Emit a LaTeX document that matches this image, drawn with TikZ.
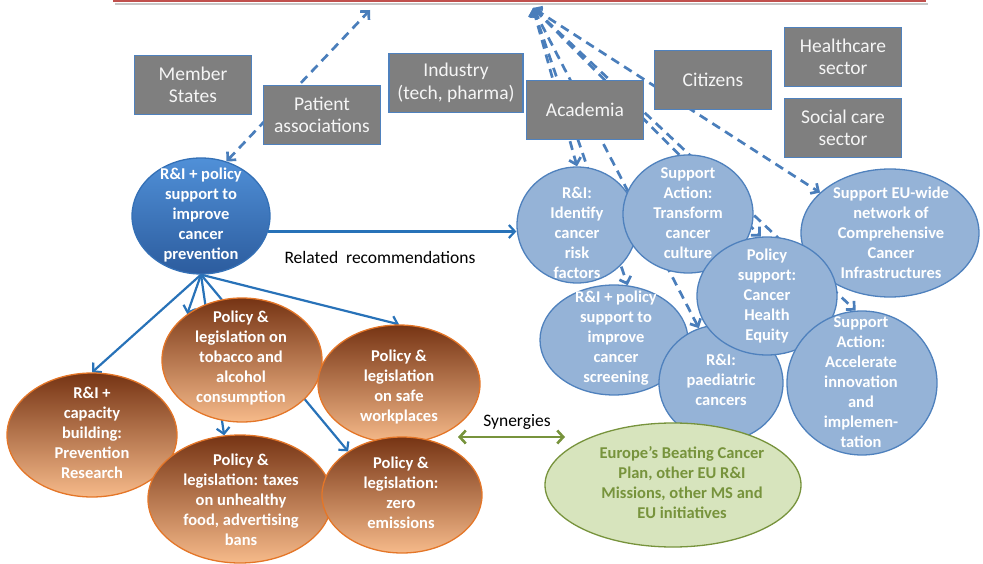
\documentclass[tikz,border=0pt]{standalone}
\usepackage{fontspec}
\setmainfont{Carlito}
\usetikzlibrary{shapes.geometric,arrows.meta,backgrounds}
\definecolor{boxgray}{RGB}{127,127,127}
\definecolor{boxborder}{RGB}{79,129,189}
\definecolor{circfill}{RGB}{149,179,215}
\definecolor{circborder}{RGB}{79,129,189}
\definecolor{dashblue}{RGB}{74,126,187}
\definecolor{solidblue}{RGB}{40,114,184}
\definecolor{prevtop}{RGB}{80,144,216}
\definecolor{prevbot}{RGB}{44,92,158}
\definecolor{prevborder}{RGB}{52,112,182}
\definecolor{browntop}{RGB}{118,52,20}
\definecolor{brownmid}{RGB}{180,98,50}
\definecolor{brownbot}{RGB}{246,186,138}
\definecolor{brownborder}{RGB}{228,118,40}
\definecolor{greenfill}{RGB}{215,228,189}
\definecolor{greenborder}{RGB}{119,147,60}
\definecolor{greentext}{RGB}{119,147,60}
\definecolor{redline}{RGB}{192,80,77}
\definecolor{boxtext}{RGB}{245,245,245}
\begin{document}
\begin{tikzpicture}[x=1pt,y=-1pt,
  graybox/.style={rectangle, draw=boxborder, fill=boxgray, line width=1.2pt, text=boxtext,
    minimum width=117pt, minimum height=59pt, align=center, inner sep=2pt,
    font=\fontsize{19.5}{22.5}\selectfont},
  bluecirc/.style={ellipse, draw=circborder, fill=circfill, line width=1.3pt, inner sep=0pt},
  prevcirc/.style={ellipse, draw=prevborder, top color=prevtop, bottom color=prevbot, line width=1.3pt, inner sep=0pt},
  browncirc/.style={ellipse, draw=brownborder, top color=browntop, middle color=brownmid, bottom color=brownbot, line width=1.3pt, inner sep=0pt},
  greencirc/.style={ellipse, draw=greenborder, fill=greenfill, line width=1.3pt, inner sep=0pt},
  circtext/.style={align=center, text=white, inner sep=0pt, font=\bfseries\fontsize{16.5}{20}\selectfont},
  greentxt/.style={align=center, text=greentext, inner sep=0pt, font=\bfseries\fontsize{16.5}{20}\selectfont},
  plainlabel/.style={inner sep=0pt, text=black, font=\fontsize{17.5}{21}\selectfont},
  dasharrow/.style={draw=dashblue, line width=2.7pt, dash pattern=on 9pt off 6pt,
    {Straight Barb[length=6pt,width=12pt]}-{Straight Barb[length=6pt,width=12pt]}},
  solidarrow/.style={draw=solidblue, line width=2.2pt, -{Straight Barb[length=6pt,width=13pt]}},
  greenarrow/.style={draw=greenborder, line width=2.6pt,
    {Straight Barb[length=6pt,width=13pt]}-{Straight Barb[length=6pt,width=13pt]}}
]
\useasboundingbox (0,0) rectangle (983,564);

% top red edge
\draw[black!22, line width=1.6pt] (115,3.8) -- (928,3.8);
\draw[redline, line width=2pt] (113,1) -- (926,1);

\coordinate (T) at (533,8);
\coordinate (T2) at (370,10);

% stakeholder boxes
\node[graybox] (ms) at (193,85) {Member\\States};
\node[graybox] (pa) at (322,115) {Patient\\associations};
\node[graybox, minimum width=134pt] (ind) at (456,83) {Industry\\(tech, pharma)};
\node[graybox] (acad) at (585,110) {Academia};
\node[graybox] (cit) at (713,80) {Citizens};
\node[graybox] (hc) at (843,57) {Healthcare\\sector};
\node[graybox] (sc) at (843,128) {Social care\\sector};

% prevention circle
\node[prevcirc, minimum width=138pt, minimum height=116pt] (prev) at (201,216) {};
\node[circtext] (prev-t) at (201,215) {R\&I + policy\\support to\\improve\\cancer\\prevention};

% brown circles
\node[browncirc, minimum width=170pt, minimum height=124pt] (cap) at (92,435) {};
\node[circtext] (cap-t) at (92,433) {R\&I +\\capacity\\building:\\Prevention\\Research};
\node[browncirc, minimum width=160pt, minimum height=124pt] (tob) at (242,360) {};
\node[circtext] (tob-t) at (241,358) {Policy \&\\legislation on\\tobacco and\\alcohol\\consumption};
\node[browncirc, minimum width=162pt, minimum height=118pt] (safe) at (399,384) {};
\node[circtext] (safe-t) at (399,387) {Policy \&\\legislation\\on safe\\workplaces};
\node[browncirc, minimum width=184pt, minimum height=128pt] (tax) at (240,499) {};
\node[circtext] (tax-t) at (241,500) {Policy \&\\legislation: taxes\\on unhealthy\\food, advertising\\bans};
\node[browncirc, minimum width=160pt, minimum height=116pt] (zero) at (402,495) {};
\node[circtext] (zero-t) at (401,493) {Policy \&\\legislation:\\zero\\emissions};

% blue circles
\node[bluecirc, minimum width=120pt, minimum height=116pt] (ident) at (577,225) {};
\node[circtext] (ident-t) at (577,233) {R\&I:\\Identify\\cancer\\risk\\factors};
\node[bluecirc, minimum width=130pt, minimum height=118pt] (trans) at (688,214) {};
\node[circtext] (trans-t) at (688,213) {Support\\Action:\\Transform\\cancer\\culture};
\node[bluecirc, minimum width=178pt, minimum height=128pt] (eu) at (890,233) {};
\node[circtext] (eu-t) at (891,233) {Support EU-wide\\network of\\Comprehensive\\Cancer\\Infrastructures};
\node[bluecirc, minimum width=148pt, minimum height=110pt] (scr) at (614,340) {};
\node[circtext] (scr-t) at (616,338) {R\&I + policy\\support to\\improve\\cancer\\screening};
\node[bluecirc, minimum width=124pt, minimum height=116pt] (ped) at (721,383) {};
\node[circtext] (ped-t) at (721,380) {R\&I:\\paediatric\\cancers};
\node[bluecirc, minimum width=140pt, minimum height=118pt] (pol) at (767,296) {};
\node[circtext] (pol-t) at (767,296) {Policy\\support:\\Cancer\\Health\\Equity};
\node[bluecirc, minimum width=150pt, minimum height=144pt] (acc) at (862,383) {};
\node[circtext] (acc-t) at (861,382) {Support\\Action:\\Accelerate\\innovation\\and\\implemen-\\tation};

% green ellipse
\node[greencirc, minimum width=256pt, minimum height=124pt] (plan) at (673,485) {};
\node[greentxt] (plan-t) at (682,483) {Europe’s Beating Cancer\\Plan, other EU R\&I\\Missions, other MS and\\EU initiatives};

% labels
\node[plainlabel] (relrec) at (380,257) {Related\hspace{0.45em}recommendations};
\node[plainlabel] (syn) at (517,422) {Synergies};

\coordinate (synL) at (458,437);
\coordinate (synR) at (565,437);

\begin{scope}[on background layer]
  % dashed links to the top
  \draw[dasharrow] (prev.65) -- (T2);
  \draw[dasharrow] (T) -- (ident.north);
  \draw[dasharrow] (T) -- (scr.76);
  \draw[dasharrow] (T) -- (ped.112);
  \draw[dasharrow] (T) -- (pol.96);
  \draw[dasharrow] (T) -- (acc.95);
  \draw[dasharrow] (T) -- (eu.150);
  % solid arrows from prevention
  \draw[solidarrow] (prev.south) -- (cap.north);
  \draw[solidarrow] (prev.south) -- (tob.140);
  \draw[solidarrow] (prev.south) -- (tax.104);
  \draw[solidarrow] (prev.south) -- (zero.141);
  \draw[solidarrow] (prev.south) -- (safe.north);
  \draw[solidarrow] (prev.-13.6) -- (prev.-13.6 -| ident.west);
  % synergies
  \draw[greenarrow] (synL) -- (synR);
\end{scope}
\end{tikzpicture}
\end{document}
